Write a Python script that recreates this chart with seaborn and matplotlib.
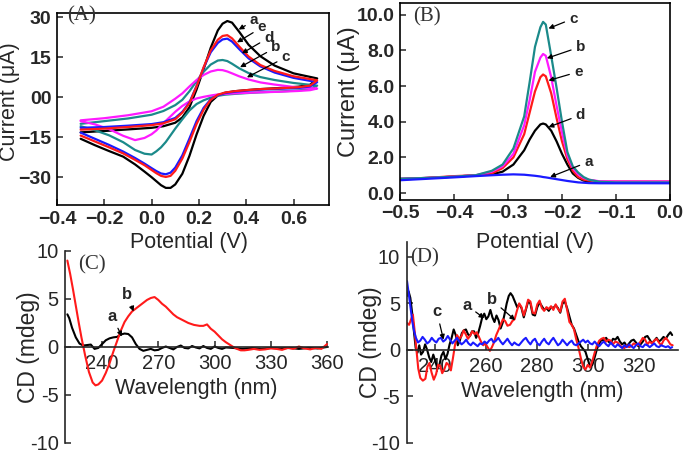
import matplotlib
matplotlib.use("Agg")
import matplotlib.pyplot as plt
import pandas as pd
import seaborn as sns

# ---------------------------------------------------------------------------
# (A) cyclic voltammograms: forward + reverse scan, current in uA
# ---------------------------------------------------------------------------
cv_E_fwd = [-0.30, -0.20, -0.10, 0.00, 0.05, 0.10, 0.13, 0.16, 0.19, 0.22, 0.25,
            0.28, 0.30, 0.32, 0.34, 0.37, 0.41, 0.46, 0.52, 0.60, 0.70]
cv_E_rev = [0.70, 0.67, 0.62, 0.54, 0.46, 0.40, 0.35, 0.31, 0.28, 0.25, 0.22, 0.19,
            0.16, 0.13, 0.10, 0.08, 0.06, 0.04, 0.02, 0.00, -0.03, -0.07, -0.12,
            -0.18, -0.24, -0.30]

cv_a_fwd = [-13.2, -12.7, -12.1, -11.5, -10.9, -9.6, -7.6, -3.8, 2.8, 10.5, 18.5,
            25.0, 27.5, 28.5, 27.9, 24.5, 19.6, 15.3, 11.8, 8.9, 7.0]
cv_a_rev = [7.0, 4.6, 3.9, 3.4, 3.0, 2.6, 2.2, 1.6, 0.6, -1.8, -7.0, -14.0, -22.0,
            -28.7, -32.7, -34.0, -34.0, -33.0, -31.5, -30.0, -27.9, -25.2, -22.3,
            -20.2, -18.0, -15.6]
cv_b_fwd = [-10.0, -9.0, -8.0, -6.6, -5.2, -3.0, -1.0, 2.2, 6.0, 9.5, 12.2,
            13.7, 13.9, 13.5, 12.5, 10.8, 9.0, 7.5, 6.4, 5.3, 4.3]
cv_b_rev = [4.3, 3.0, 2.5, 2.1, 1.8, 1.5, 1.2, 0.9, 0.5, -0.2, -1.2, -2.6, -5.0,
            -8.3, -11.8, -14.3, -16.8, -18.8, -20.3, -21.5, -21.2, -19.8, -16.9,
            -14.3, -12.4, -10.9]
cv_c_fwd = [-8.7, -7.9, -6.8, -5.3, -3.6, -0.6, 1.4, 4.0, 6.4, 8.3, 9.6,
            10.2, 10.1, 9.6, 8.9, 7.8, 6.6, 5.5, 4.7, 3.8, 3.2]
cv_c_rev = [3.2, 2.6, 2.3, 2.0, 1.8, 1.6, 1.4, 1.2, 1.0, 0.6, 0.1, -0.5, -1.6,
            -3.3, -5.5, -7.2, -8.9, -10.6, -12.5, -13.9, -15.3, -16.1, -14.5,
            -12.0, -10.2, -9.0]
cv_d_fwd = [-11.5, -11.2, -10.7, -10.1, -9.4, -7.8, -5.5, -2.0, 4.2, 11.0, 16.8,
            20.3, 21.6, 21.9, 20.8, 18.0, 14.5, 11.5, 9.2, 7.2, 5.6]
cv_d_rev = [5.6, 4.0, 3.4, 3.1, 2.8, 2.4, 2.0, 1.5, 0.7, -0.8, -4.0, -9.0, -15.5,
            -21.8, -26.4, -28.3, -28.9, -28.6, -27.7, -26.6, -24.9, -22.8, -20.4,
            -17.9, -15.6, -13.3]
cv_e_fwd = [-12.2, -11.8, -11.2, -10.5, -9.8, -8.3, -5.8, -2.3, 4.0, 11.2, 17.5,
            21.5, 22.9, 23.2, 22.0, 19.0, 15.2, 12.0, 9.8, 7.8, 6.3]
cv_e_rev = [6.3, 4.3, 3.7, 3.3, 3.0, 2.6, 2.2, 1.7, 0.9, -1.0, -4.7, -10.1, -16.8,
            -23.0, -27.6, -29.5, -29.9, -29.5, -28.5, -27.3, -25.5, -23.5, -21.1,
            -18.8, -16.6, -14.4]

cv_xticks = [-0.4, -0.2, 0.0, 0.2, 0.4, 0.6]
cv_xticklabels = ["\u22120.4", "\u22120.2", "0.0", "0.2", "0.4", "0.6"]
cv_yticks = [-30, -15, 0, 15, 30]
cv_yticklabels = ["\u221230", "\u221215", "00", "15", "30"]

# ---------------------------------------------------------------------------
# (B) differential pulse voltammograms
# ---------------------------------------------------------------------------
dpv_E = [-0.50, -0.45, -0.40, -0.36, -0.33, -0.31, -0.29, -0.27, -0.26, -0.25,
         -0.24, -0.235, -0.23, -0.22, -0.21, -0.20, -0.19, -0.18, -0.17, -0.16,
         -0.15, -0.13, -0.10, -0.05, 0.00]
dpv_a = [0.72, 0.80, 0.88, 0.95, 1.00, 1.03, 1.05, 1.03, 1.00, 0.97, 0.93, 0.90,
         0.88, 0.83, 0.78, 0.73, 0.68, 0.64, 0.60, 0.58, 0.56, 0.55, 0.55, 0.55, 0.55]
dpv_b = [0.80, 0.85, 0.92, 1.00, 1.20, 1.50, 2.20, 3.80, 5.20, 6.80, 7.60, 7.80,
         7.70, 6.50, 4.90, 3.40, 2.10, 1.40, 1.05, 0.85, 0.75, 0.66, 0.65, 0.65, 0.65]
dpv_c = [0.80, 0.85, 0.92, 1.00, 1.25, 1.60, 2.50, 4.30, 6.20, 8.20, 9.30, 9.60,
         9.45, 7.70, 5.90, 4.00, 2.30, 1.50, 1.15, 0.90, 0.75, 0.63, 0.60, 0.60, 0.60]
dpv_d = [0.80, 0.85, 0.92, 1.00, 1.05, 1.20, 1.60, 2.40, 3.00, 3.50, 3.85, 3.90,
         3.85, 3.50, 2.90, 2.20, 1.60, 1.10, 0.85, 0.70, 0.65, 0.60, 0.60, 0.60, 0.60]
dpv_e = [0.75, 0.85, 0.95, 1.00, 1.10, 1.40, 2.00, 3.30, 4.50, 5.70, 6.50, 6.65,
         6.55, 5.60, 4.20, 2.90, 1.90, 1.25, 0.90, 0.75, 0.70, 0.65, 0.65, 0.65, 0.65]

dpv_xticks = [-0.5, -0.4, -0.3, -0.2, -0.1, 0.0]
dpv_xticklabels = ["\u22120.5", "\u22120.4", "\u22120.3", "\u22120.2", "\u22120.1", "0.0"]
dpv_yticks = [0, 2, 4, 6, 8, 10]
dpv_yticklabels = ["0.0", "2.0", "4.0", "6.0", "8.0", "10.0"]

# ---------------------------------------------------------------------------
# (C) CD spectra, (wavelength nm, mdeg)
# ---------------------------------------------------------------------------
cdC_a = [(221.5, 3.4), (222.5, 3.0), (224, 2.0), (226, 1.0), (228, 0.35), (230, 0.15),
         (232, 0.2), (234, 0.25), (236, -0.2), (238, -0.1), (240, 0.3), (242, 0.7),
         (244, 0.9), (246, 1.0), (248, 1.05), (250, 1.3), (252, 1.4), (254, 1.35),
         (256, 1.0), (258, 0.3), (260, -0.2), (262, -0.4), (264, -0.3), (266, -0.2),
         (268, -0.35), (270, -0.3), (272, -0.1), (274, 0.05), (276, -0.1), (278, -0.25),
         (280, 0.0), (282, 0.15), (284, -0.1), (286, -0.15), (288, 0.1), (290, -0.05),
         (292, -0.15), (294, 0.1), (296, -0.1), (298, -0.2), (300, 0.05), (302, -0.1),
         (304, -0.2), (306, -0.05), (310, -0.1), (315, -0.2), (320, -0.1), (325, -0.2),
         (330, -0.1), (335, -0.15), (340, -0.1), (345, -0.2), (350, -0.1), (355, -0.15),
         (360, 0.0)]
cdC_b = [(221.5, 9.0), (223, 7.6), (224.5, 6.0), (226, 4.3), (227.5, 2.6), (229, 1.0),
         (231, -0.9), (233, -2.6), (235, -3.7), (236.5, -4.0), (238, -3.9), (240, -3.5),
         (242, -2.7), (244, -1.7), (246, -0.5), (248, 0.6), (250, 1.7), (252, 2.6),
         (254, 3.2), (256, 3.7), (258, 4.0), (260, 4.3), (262, 4.6), (264, 4.9),
         (266, 5.1), (268, 5.2), (270, 4.9), (272, 4.5), (274, 4.2), (276, 3.8),
         (278, 3.4), (280, 3.1), (283, 2.8), (286, 2.5), (289, 2.3), (292, 2.2),
         (294, 2.2), (296, 2.35), (298, 1.9), (300, 1.6), (302, 1.2), (304, 0.8),
         (306, 0.5), (308, 0.25), (310, 0.0), (312, -0.2), (314, -0.35), (316, -0.35),
         (318, -0.3), (321, -0.2), (324, -0.3), (327, -0.25), (330, -0.15), (333, -0.2),
         (336, -0.3), (339, -0.1), (342, -0.2), (345, 0.05), (348, -0.15), (351, -0.25),
         (354, -0.1), (357, -0.2), (360, 0.3)]
cdC_xticks = [240, 270, 300, 330, 360]
cd_yticks = [-10, -5, 0, 5, 10]
cd_yticklabels = ["-10", "-5", "0", "5", "10"]

# ---------------------------------------------------------------------------
# (D) CD spectra, (wavelength nm, mdeg)
# ---------------------------------------------------------------------------
cdD_a = [(229.0, 5.8), (229.6, 6.3), (230.3, 5.6), (231.0, 4.0), (231.7, 2.0),
         (232.4, 0.2), (233.1, -0.3), (233.8, 0.5), (234.5, -0.5), (235.3, -0.2),
         (236.1, 0.6), (236.9, 0.0), (237.7, -0.8), (238.5, -1.3), (239.3, -0.5),
         (240.1, -1.2), (240.9, -2.0), (241.7, -1.6), (242.5, -0.6), (243.3, -0.2),
         (244.1, -1.0), (244.9, -0.4), (245.7, 0.6), (246.5, 1.3), (247.3, 2.2),
         (248.1, 1.6), (248.9, 0.5), (249.7, 1.0), (250.5, 1.8), (251.3, 2.1),
         (252.1, 2.2), (252.9, 1.7), (253.7, 1.5), (254.5, 2.0), (255.3, 2.0),
         (256.1, 1.3), (256.9, 1.8), (257.7, 2.6), (258.5, 3.5), (259.3, 3.9),
         (260.1, 3.3), (260.9, 3.6), (261.7, 4.3), (262.5, 3.5), (263.3, 3.0),
         (264.1, 3.7), (264.9, 3.2), (265.7, 2.3), (266.5, 2.9), (267.3, 3.9),
         (268.1, 5.0), (268.9, 5.8), (269.6, 6.1), (270.4, 5.8), (271.3, 5.2),
         (272.2, 4.6), (273.0, 4.9), (273.9, 4.5), (274.8, 3.5), (275.6, 4.3),
         (276.5, 5.2), (277.4, 5.0), (278.3, 3.8), (279.2, 3.7), (280.1, 4.6),
         (281.0, 5.1), (281.9, 4.7), (282.8, 4.3), (283.7, 4.5), (284.6, 4.2),
         (285.5, 4.6), (286.4, 4.5), (287.3, 4.8), (288.2, 4.5), (289.1, 4.0),
         (290.0, 5.0), (290.9, 5.2), (291.8, 4.5), (292.7, 3.6), (293.6, 2.7),
         (294.5, 2.3), (295.4, 1.6), (296.3, 0.9), (297.2, 0.4), (298.1, 0.1),
         (299.0, -0.2), (299.9, -1.0), (300.8, -1.8), (301.7, -1.6), (302.6, -0.8),
         (303.5, 0.1), (304.4, 0.7), (305.3, 1.1), (306.2, 1.0), (307.1, 1.3),
         (308.0, 0.9), (308.9, 0.7), (309.8, 1.2), (310.7, 1.1), (311.6, 1.4),
         (312.5, 0.9), (313.4, 0.6), (314.3, 0.8), (315.2, 0.4), (316.1, 0.7),
         (317.0, 1.0), (317.9, 1.1), (318.8, 0.8), (319.7, 0.4), (320.6, 0.6),
         (321.5, 0.9), (322.4, 1.4), (323.3, 1.5), (324.2, 1.1), (325.1, 0.7),
         (326.0, 1.0), (326.9, 1.3), (327.8, 0.9), (328.7, 1.1), (329.6, 1.4),
         (330.5, 1.2), (331.4, 1.6), (332.3, 1.9), (333.0, 1.6)]
cdD_b = [(229.0, 2.9), (229.8, 2.7), (230.6, 3.3), (231.3, 3.8), (232.0, 2.0),
         (232.7, 0.0), (233.4, -2.0), (234.2, -3.0), (235.2, -3.3), (236.2, -3.1),
         (237.0, -1.8), (237.8, -1.4), (238.6, -2.4), (239.5, -3.2), (240.4, -2.6),
         (241.2, -1.6), (242.0, -1.7), (242.8, -2.5), (243.6, -2.1), (244.5, -1.4),
         (245.3, -1.6), (246.2, -2.2), (247.0, -0.9), (247.8, 0.5), (248.6, 1.6),
         (249.5, 1.2), (250.4, 1.5), (251.2, 2.1), (252.0, 1.7), (252.9, 1.2),
         (253.7, 1.5), (254.6, 2.0), (255.5, 1.7), (256.3, 1.9), (257.2, 1.4),
         (258.0, 0.9), (258.9, 0.5), (259.7, 0.7), (260.6, 0.3), (261.5, -0.1),
         (262.3, 0.3), (263.1, 0.8), (264.0, 1.6), (264.8, 2.1), (265.7, 2.7),
         (266.6, 3.3), (267.5, 3.1), (268.4, 2.6), (269.4, 2.7), (270.3, 3.1),
         (271.2, 3.3), (272.1, 4.2), (273.0, 5.0), (273.9, 4.6), (274.8, 3.7),
         (275.6, 4.4), (276.5, 5.4), (277.4, 5.2), (278.3, 4.0), (279.2, 3.9),
         (280.1, 4.9), (281.0, 5.3), (281.9, 4.5), (282.8, 4.2), (283.7, 4.6),
         (284.6, 4.4), (285.5, 4.7), (286.4, 4.3), (287.3, 4.9), (288.2, 4.4),
         (289.1, 4.1), (290.0, 5.2), (290.9, 5.5), (291.8, 4.3), (292.7, 3.0),
         (293.6, 2.7), (294.5, 2.2), (295.4, 1.1), (296.3, 0.2), (297.2, -0.9),
         (298.1, -1.8), (299.0, -2.1), (299.9, -1.6), (300.8, -1.9), (301.7, -1.2),
         (302.6, -0.3), (303.5, 0.5), (304.4, 1.0), (305.3, 1.2), (306.2, 1.3),
         (307.1, 0.9), (308.0, 1.1), (308.9, 1.0), (309.8, 0.6), (310.7, 0.9),
         (311.6, 0.8), (312.5, 0.5), (313.4, 0.3), (314.3, 0.2), (315.2, 0.5),
         (316.1, 0.3), (317.0, 0.4), (317.9, 0.7), (318.8, 0.6), (319.7, 0.5),
         (320.6, 0.9), (321.5, 1.3), (322.4, 1.1), (323.3, 0.6), (324.2, 0.9),
         (325.1, 0.7), (326.0, 1.0), (326.9, 1.2), (327.8, 0.8), (328.7, 0.5),
         (329.6, 1.0), (330.5, 1.3), (331.4, 1.0), (332.3, 0.6), (333.2, 0.5)]
cdD_c = [(229.0, 7.4), (229.7, 6.0), (230.4, 4.5), (231.1, 3.0), (231.8, 2.0),
         (232.5, 1.3), (233.3, 0.8), (234.2, 1.0), (235.1, 1.4), (236.0, 1.1),
         (236.9, 0.7), (237.8, 0.9), (238.7, 1.3), (239.6, 1.0), (240.5, 0.8),
         (241.4, 1.2), (242.3, 1.3), (243.2, 0.9), (244.1, 1.1), (245.0, 1.5),
         (245.9, 1.1), (246.8, 0.7), (247.7, 1.0), (248.6, 1.3), (249.5, 0.9),
         (250.4, 0.6), (251.3, 0.8), (252.2, 1.1), (253.1, 0.7), (254.0, 0.5),
         (254.9, 0.8), (255.8, 0.6), (256.7, 0.4), (257.6, 0.7), (258.5, 0.6),
         (259.4, 0.9), (260.3, 0.7), (261.2, 1.0), (262.1, 1.2), (263.0, 0.8),
         (263.9, 1.0), (264.8, 1.3), (265.7, 0.9), (266.6, 0.6), (267.5, 0.9),
         (268.4, 1.2), (269.3, 0.8), (270.2, 0.5), (271.1, 0.8), (272.0, 0.6),
         (272.9, 0.5), (273.8, 0.8), (274.7, 1.1), (275.6, 1.3), (276.5, 0.9),
         (277.4, 0.6), (278.3, 1.0), (279.2, 1.2), (280.1, 0.7), (281.0, 0.5),
         (281.9, 0.9), (282.8, 1.2), (283.7, 0.8), (284.6, 0.6), (285.5, 1.0),
         (286.4, 1.3), (287.3, 0.9), (288.2, 0.5), (289.1, 0.7), (290.0, 1.1),
         (290.9, 0.8), (291.8, 0.5), (292.7, 0.8), (293.6, 1.0), (294.5, 0.6),
         (295.4, 0.5), (296.3, 0.7), (297.2, 0.9), (298.1, 1.1), (299.0, 0.8),
         (299.9, 1.0), (300.8, 0.7), (301.7, 0.6), (302.6, 0.9), (303.5, 0.6),
         (304.4, 0.4), (305.3, 0.7), (306.2, 0.9), (307.1, 0.6), (308.0, 0.4),
         (308.9, 0.8), (309.8, 0.5), (310.7, 0.3), (311.6, 0.6), (312.5, 0.4),
         (313.4, 0.2), (314.3, 0.5), (315.2, 0.3), (316.1, 0.6), (317.0, 0.4),
         (317.9, 0.2), (318.8, 0.5), (319.7, 0.7), (320.6, 0.4), (321.5, 0.3),
         (322.4, 0.6), (323.3, 0.5), (324.2, 0.3), (325.1, 0.5), (326.0, 0.7),
         (326.9, 0.4), (327.8, 0.3), (328.7, 0.5), (329.6, 0.4), (330.5, 0.3),
         (331.4, 0.4), (332.3, 0.2), (333.0, 0.3)]
cdD_xticks = [240, 260, 280, 300, 320]

# ---------------------------------------------------------------------------
# styling
# ---------------------------------------------------------------------------
colors = {"black": "#000000", "red": "#ff1a1a", "blue": "#1a1aff",
          "teal": "#1b8a8a", "magenta": "#ff1aff"}

sns.set_style("ticks")
plt.rcParams["font.family"] = ["Liberation Sans", "DejaVu Sans"]
plt.rcParams["axes.linewidth"] = 1.2
plt.rcParams["axes.facecolor"] = "none"
SERIF = ["Liberation Serif", "DejaVu Serif"]
TICK = 14
LABEL = 15.5

fig = plt.figure(figsize=(6.85, 4.53), dpi=100)
axA = fig.add_axes([0.0832, 0.5475, 0.3971, 0.4238])
axB = fig.add_axes([0.5839, 0.5596, 0.3942, 0.4338])
axC = fig.add_axes([0.0956, 0.0221, 0.3832, 0.4239])
axD = fig.add_axes([0.5942, 0.0221, 0.3956, 0.4437])


def arrow(ax, txt, xy, xytext, size=11):
    ax.annotate(txt, xy=xy, xytext=xytext, ha="center", va="center",
                fontsize=size, fontweight="bold",
                arrowprops=dict(arrowstyle="-|>", color="k", lw=0.9,
                                mutation_scale=7, shrinkA=1, shrinkB=0))


# ---- (A) CV ----------------------------------------------------------------
cv_frames = []
for key, fwd, rev in [("a", cv_a_fwd, cv_a_rev), ("b", cv_b_fwd, cv_b_rev),
                      ("c", cv_c_fwd, cv_c_rev), ("d", cv_d_fwd, cv_d_rev),
                      ("e", cv_e_fwd, cv_e_rev)]:
    cv_frames.append(pd.DataFrame({"E": cv_E_fwd + cv_E_rev, "I": fwd + rev,
                                   "curve": key}))
cv_df = pd.concat(cv_frames, ignore_index=True)
cv_pal = {"a": colors["black"], "b": colors["teal"], "c": colors["magenta"],
          "d": colors["blue"], "e": colors["red"]}
sns.lineplot(data=cv_df, x="E", y="I", hue="curve", hue_order=["a", "b", "c", "d", "e"],
             palette=cv_pal, sort=False, estimator=None, lw=1.6, legend=False, ax=axA)
axA.set_xlim(-0.4, 0.75)
axA.set_ylim(-40.4, 31.5)
axA.set_xticks(cv_xticks, cv_xticklabels)
axA.set_yticks(cv_yticks, cv_yticklabels)
axA.set_xlabel("Potential (V)", fontsize=LABEL)
axA.set_ylabel("Current (\u03bcA)", fontsize=LABEL)
axA.xaxis.set_label_coords(0.485, -0.14)
axA.yaxis.set_label_coords(-0.135, 0.536)
axA.text(0.09, 0.985, "(A)", transform=axA.transAxes, ha="center", va="center",
         family=SERIF, fontsize=15, color="#333333")
arrow(axA, "a", (0.368, 25.3), (0.433, 28.7))
arrow(axA, "e", (0.361, 20.5), (0.466, 26.1))
arrow(axA, "d", (0.382, 16.4), (0.496, 22.3))
arrow(axA, "b", (0.374, 11.2), (0.525, 18.6))
arrow(axA, "c", (0.403, 7.4), (0.567, 14.9))

# ---- (B) DPV ---------------------------------------------------------------
dpv_df = pd.concat([pd.DataFrame({"E": dpv_E, "I": vals, "curve": key})
                    for key, vals in [("d", dpv_d), ("e", dpv_e), ("b", dpv_b),
                                      ("c", dpv_c), ("a", dpv_a)]], ignore_index=True)
dpv_pal = {"a": colors["blue"], "b": colors["magenta"], "c": colors["teal"],
           "d": colors["black"], "e": colors["red"]}
sns.lineplot(data=dpv_df, x="E", y="I", hue="curve", hue_order=["d", "e", "b", "c", "a"],
             palette=dpv_pal, sort=False, estimator=None, lw=1.6, legend=False, ax=axB)
axB.set_xlim(-0.5, 0.0)
axB.set_ylim(-0.36, 10.66)
axB.set_xticks(dpv_xticks, dpv_xticklabels)
axB.set_yticks(dpv_yticks, dpv_yticklabels)
axB.set_xlabel("Potential (V)", fontsize=LABEL)
axB.set_ylabel("Current (\u03bcA)", fontsize=17)
axB.xaxis.set_label_coords(0.5, -0.165)
axB.yaxis.set_label_coords(-0.148, 0.55)
axB.text(0.1, 0.93, "(B)", transform=axB.transAxes, ha="center", va="center",
         family=SERIF, fontsize=15, color="#333333")
arrow(axB, "c", (-0.225, 9.23), (-0.179, 9.79))
arrow(axB, "b", (-0.228, 7.56), (-0.166, 8.2))
arrow(axB, "e", (-0.225, 6.31), (-0.17, 6.8))
arrow(axB, "d", (-0.225, 3.7), (-0.166, 4.37))
arrow(axB, "a", (-0.222, 0.9), (-0.151, 1.75))

for ax in (axA, axB):
    ax.tick_params(direction="in", length=4, width=1.1, labelsize=TICK, pad=4,
                   top=False, right=False)
    for lab in ax.get_xticklabels() + ax.get_yticklabels():
        lab.set_fontweight("bold")
    for sp in ax.spines.values():
        sp.set_visible(True)
        sp.set_linewidth(1.2)
        sp.set_color("black")


# ---- (C) and (D) CD spectra -----------------------------------------------
def cd_frame(pairs, key):
    return pd.DataFrame({"wl": [p[0] for p in pairs], "cd": [p[1] for p in pairs],
                         "curve": key})


cdC_df = pd.concat([cd_frame(cdC_a, "a"), cd_frame(cdC_b, "b")], ignore_index=True)
sns.lineplot(data=cdC_df, x="wl", y="cd", hue="curve", hue_order=["a", "b"],
             palette={"a": colors["black"], "b": colors["red"]}, sort=False,
             estimator=None, lw=1.5, legend=False, ax=axC)
axC.set_xlim(220.5, 360.5)
axC.set_ylim(-10, 10)
axC.set_xticks(cdC_xticks)
axC.xaxis.set_label_coords(0.528, 0.34)
axC.yaxis.set_label_coords(-0.097, 0.485)
axC.text(0.1, 0.93, "(C)", transform=axC.transAxes, ha="center", va="center",
         family=SERIF, fontsize=15, color="#333333")
arrow(axC, "a", (250.6, 1.1), (245.3, 3.2), size=12)
arrow(axC, "b", (256.8, 3.7), (253.3, 5.5), size=12)

cdD_df = pd.concat([cd_frame(cdD_a, "a"), cd_frame(cdD_b, "b"), cd_frame(cdD_c, "c")],
                   ignore_index=True)
sns.lineplot(data=cdD_df, x="wl", y="cd", hue="curve", hue_order=["a", "b", "c"],
             palette={"a": colors["black"], "b": colors["red"], "c": colors["blue"]},
             sort=False, estimator=None, lw=1.5, legend=False, ax=axD)
axD.set_xlim(229.0, 335.3)
axD.set_ylim(-10, 11.6)
axD.set_xticks(cdD_xticks)
axD.xaxis.set_label_coords(0.495, 0.31)
axD.yaxis.set_label_coords(-0.093, 0.46)
axD.text(0.066, 0.92, "(D)", transform=axD.transAxes, ha="center", va="center",
         family=SERIF, fontsize=15, color="#333333")
arrow(axD, "a", (259.3, 3.4), (252.4, 4.8), size=12)
arrow(axD, "b", (271.4, 3.2), (262.2, 5.4), size=12)
arrow(axD, "c", (243.3, 1.1), (240.7, 4.1), size=12)

for ax in (axC, axD):
    sns.despine(ax=ax)
    ax.spines["bottom"].set_position(("data", 0))
    ax.spines["left"].set_linewidth(1.2)
    ax.spines["bottom"].set_linewidth(1.2)
    ax.set_yticks(cd_yticks, cd_yticklabels)
    ax.tick_params(direction="in", length=4, width=1.1, labelsize=14.5, pad=5)
    ax.set_xlabel("Wavelength (nm)", fontsize=LABEL)
    ax.set_ylabel("CD (mdeg)", fontsize=16.5)

fig.savefig("out.png", dpi=100, facecolor="white")
